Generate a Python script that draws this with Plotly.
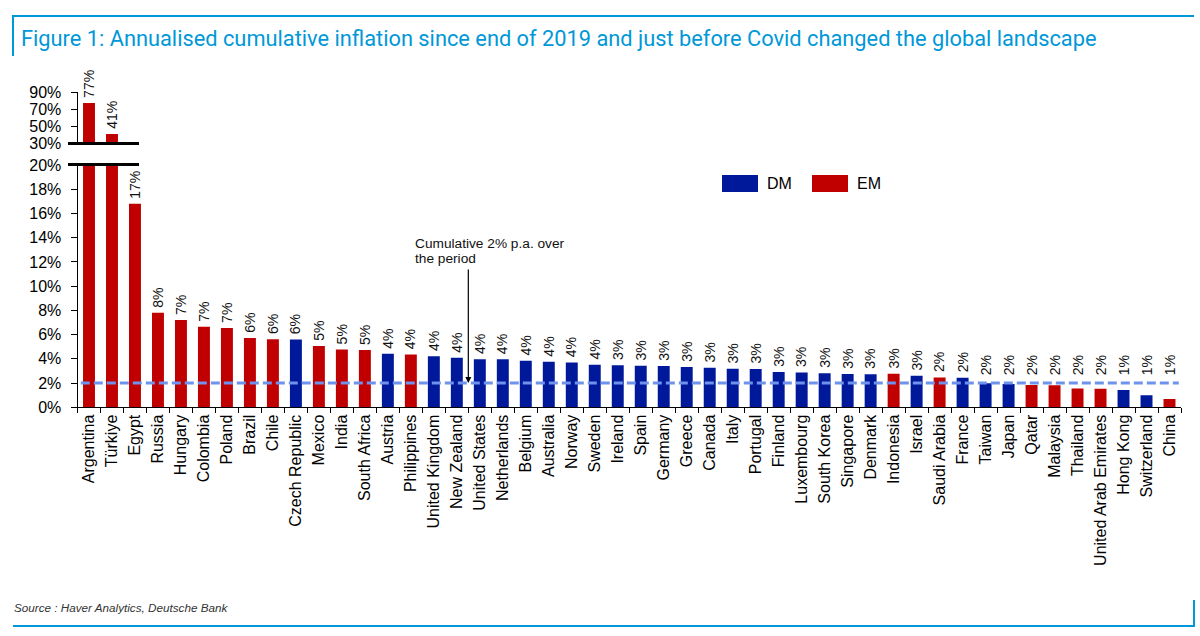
import plotly.graph_objects as go

countries = ["Argentina", "Türkiye", "Egypt", "Russia", "Hungary", "Colombia", "Poland", "Brazil", "Chile",
             "Czech Republic", "Mexico", "India", "South Africa", "Austria", "Philippines", "United Kingdom",
             "New Zealand", "United States", "Netherlands", "Belgium", "Australia", "Norway", "Sweden", "Ireland",
             "Spain", "Germany", "Greece", "Canada", "Italy", "Portugal", "Finland", "Luxembourg", "South Korea",
             "Singapore", "Denmark", "Indonesia", "Israel", "Saudi Arabia", "France", "Taiwan", "Japan", "Qatar",
             "Malaysia", "Thailand", "United Arab Emirates", "Hong Kong", "Switzerland", "China"]
inflation = [77.3, 41.2, 16.8, 7.8, 7.2, 6.65, 6.55, 5.73, 5.62,
             5.6, 5.07, 4.77, 4.72, 4.41, 4.36, 4.22,
             4.08, 3.97, 3.96, 3.84, 3.75, 3.70, 3.52, 3.48,
             3.42, 3.40, 3.32, 3.26, 3.18, 3.17, 2.91, 2.88, 2.82,
             2.74, 2.73, 2.76, 2.60, 2.47, 2.44, 1.98, 1.92, 1.84,
             1.83, 1.55, 1.53, 1.42, 0.99, 0.68]
group = ["EM", "EM", "EM", "EM", "EM", "EM", "EM", "EM", "EM",
         "DM", "EM", "EM", "EM", "DM", "EM", "DM",
         "DM", "DM", "DM", "DM", "DM", "DM", "DM", "DM",
         "DM", "DM", "DM", "DM", "DM", "DM", "DM", "DM", "DM",
         "DM", "DM", "EM", "DM", "EM", "DM", "DM", "DM", "EM",
         "EM", "EM", "EM", "DM", "DM", "EM"]
lower_ticks = [0, 2, 4, 6, 8, 10, 12, 14, 16, 18, 20]
upper_ticks = [30, 50, 70, 90]
TARGET = 2  # cumulative 2% p.a.
LABEL_FLOOR = 2.2  # value labels are kept above the 2% line

COLORS = {"DM": "#00189A", "EM": "#C00000"}
BLUE = "#0098D8"
W, H = 1200, 636
FONT = "Liberation Sans, Arial, sans-serif"

lower_max = lower_ticks[-1]
break_low = upper_ticks[0]
labels = [f"{round(v)}%" for v in inflation]
colors = [COLORS[g] for g in group]

fig = go.Figure()

# lower panel bars
fig.add_trace(go.Bar(
    x=countries, y=inflation, marker_color=colors, marker_line_width=0,
    xaxis="x", yaxis="y", showlegend=False, hoverinfo="x+y",
))
# upper panel bars (above the axis break)
fig.add_trace(go.Bar(
    x=countries, y=[v - break_low if v > break_low else None for v in inflation],
    base=break_low, marker_color=colors, marker_line_width=0,
    xaxis="x2", yaxis="y2", showlegend=False, hoverinfo="skip",
))

def px_x(p):
    return p / W

def px_y(p):
    return 1 - p / H

x_dom = [px_x(77.5), px_x(1181)]
axis_common = dict(showline=True, linecolor="#000", linewidth=1, ticks="outside", ticklen=6,
                   tickcolor="#000", showgrid=False, zeroline=False, automargin=False,
                   ticklabelstandoff=6, tickfont=dict(family=FONT, size=16, color="#000"))
fig.update_layout(
    width=W, height=H, autosize=False,
    margin=dict(l=0, r=0, t=0, b=0),
    paper_bgcolor="white", plot_bgcolor="white",
    bargap=0.48,
    font=dict(family=FONT, size=16, color="#000"),
    xaxis=dict(domain=x_dom, range=[-0.5, len(countries) - 0.5], type="category",
               showline=True, linecolor="#000", linewidth=1, ticks="outside", ticklen=5,
               tickcolor="#000", tickson="boundaries", tickangle=-90,
               tickfont=dict(family=FONT, size=16, color="#000"), showgrid=False, automargin=False,
               anchor="y"),
    yaxis=dict(domain=[px_y(407.3), px_y(165)], range=[0, lower_max], tickvals=lower_ticks,
               ticktext=[f"{t}%" for t in lower_ticks], anchor="x", **axis_common),
    xaxis2=dict(domain=x_dom, matches="x", visible=False, anchor="y2"),
    yaxis2=dict(domain=[px_y(143.5), px_y(92)], range=[break_low, upper_ticks[-1]], tickvals=upper_ticks,
                ticktext=[f"{t}%" for t in upper_ticks], anchor="x2", **axis_common),
)

shapes = []
# 2% reference line
shapes.append(dict(type="line", xref="x domain", yref="y", x0=0.003, x1=0.998, y0=TARGET, y1=TARGET,
                   line=dict(color="#6F93EC", width=3, dash="9px,4px"), layer="above"))
# axis-break bars
for yy in (143.5, 164.5):
    shapes.append(dict(type="line", xref="paper", yref="paper", x0=px_x(68), x1=px_x(139),
                       y0=px_y(yy), y1=px_y(yy), line=dict(color="#000", width=3)))
# frame
frame = dict(color=BLUE, width=2)
shapes += [
    dict(type="line", xref="paper", yref="paper", x0=px_x(13), x1=px_x(1194), y0=px_y(16), y1=px_y(16), line=frame),
    dict(type="line", xref="paper", yref="paper", x0=px_x(13), x1=px_x(13), y0=px_y(15), y1=px_y(56), line=frame),
    dict(type="line", xref="paper", yref="paper", x0=px_x(13), x1=px_x(1194), y0=px_y(626), y1=px_y(626), line=frame),
    dict(type="line", xref="paper", yref="paper", x0=px_x(1194), x1=px_x(1194), y0=px_y(600), y1=px_y(627), line=frame),
]
annotations = []
# value labels
for c, v, lab in zip(countries, inflation, labels):
    if v > break_low:
        yref, yy = "y2", v
    else:
        yref, yy = "y", max(v, LABEL_FLOOR)
    annotations.append(dict(xref="x", yref=yref, x=c, y=yy, text=lab, textangle=-90, showarrow=False,
                            xanchor="center", yanchor="bottom", yshift=4, borderpad=0,
                            font=dict(family=FONT, size=14, color="#111")))
# legend boxes
legend_items = [("DM", 722), ("EM", 812)]
for name, lx in legend_items:
    shapes.append(dict(type="rect", xref="paper", yref="paper", x0=px_x(lx), x1=px_x(lx + 36),
                       y0=px_y(192), y1=px_y(175), fillcolor=COLORS[name], line=dict(width=0)))
    annotations.append(dict(xref="paper", yref="paper", x=px_x(lx + 43), y=px_y(184), text=name,
                            showarrow=False, xanchor="left", yanchor="middle",
                            font=dict(family=FONT, size=16, color="#000")))

# title
annotations.append(dict(xref="paper", yref="paper", x=px_x(19), y=px_y(38.5), text=(
    "Figure 1: Annualised cumulative inflation since end of 2019 and just before Covid changed the global landscape"),
    showarrow=False, xanchor="left", yanchor="middle", font=dict(family="Roboto", size=21.8, color=BLUE)))
# source
annotations.append(dict(xref="paper", yref="paper", x=px_x(12), y=px_y(607), text="<i>Source : Haver Analytics, Deutsche Bank</i>",
                        showarrow=False, xanchor="left", yanchor="middle",
                        font=dict(family=FONT, size=11.7, color="#333")))
# reference line note
for txt, yy in (("Cumulative 2% p.a. over", 243.5), ("the period", 258.5)):
    annotations.append(dict(xref="paper", yref="paper", x=px_x(413), y=px_y(yy), text=txt, showarrow=False,
                            xanchor="left", yanchor="middle", font=dict(family=FONT, size=13.7, color="#111")))
annotations.append(dict(xref="x", yref="y", x=16.5, y=TARGET, text="", showarrow=True, ax=0, ay=-115,
                        arrowhead=2, arrowsize=1, arrowwidth=1.2, arrowcolor="#000"))

fig.update_layout(shapes=shapes, annotations=annotations)
fig.write_html("out.html")
